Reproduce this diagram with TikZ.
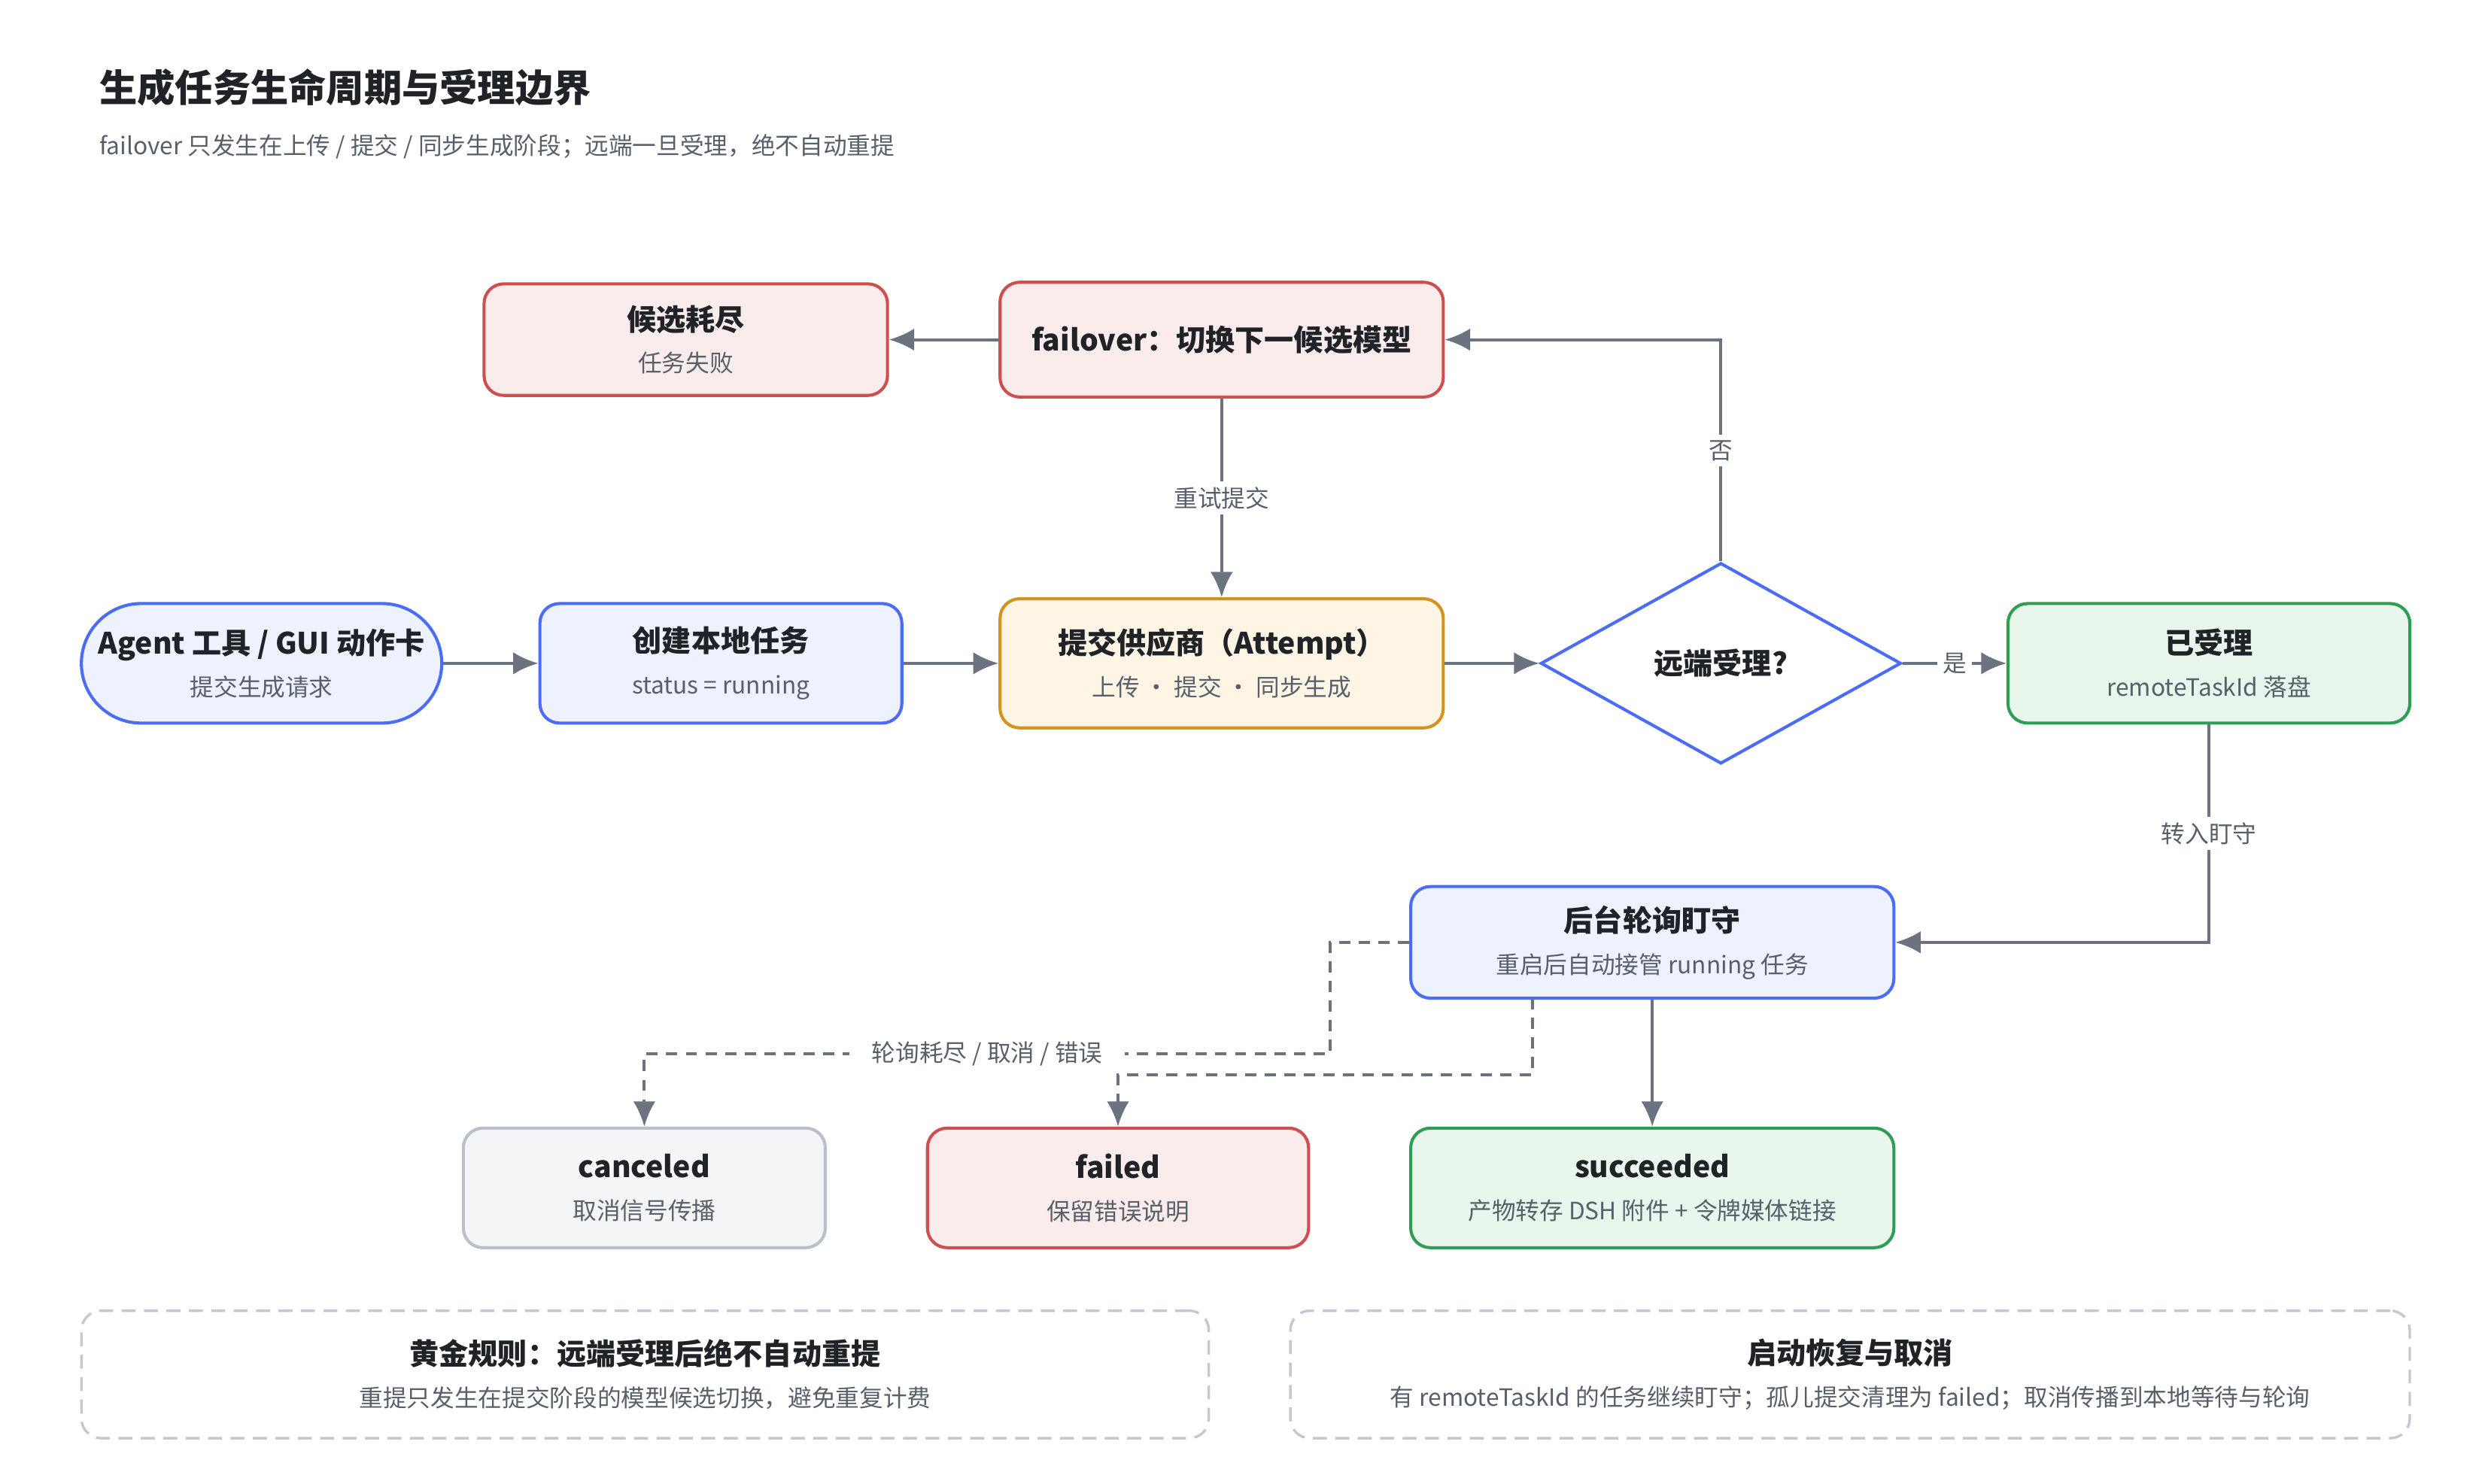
\documentclass[tikz,border=0pt]{standalone}
\usepackage{fontspec}
\setmainfont{Noto Sans CJK SC}
\usetikzlibrary{arrows.meta,shapes.geometric}
\definecolor{ink}{HTML}{1F2328}
\definecolor{subink}{HTML}{57606A}
\definecolor{edge}{HTML}{6B7280}
\definecolor{bluedraw}{HTML}{4A6CF7}
\definecolor{bluefill}{HTML}{EEF2FE}
\definecolor{reddraw}{HTML}{CF4F4F}
\definecolor{redfill}{HTML}{FBECEC}
\definecolor{orangedraw}{HTML}{D4921F}
\definecolor{orangefill}{HTML}{FEF5E4}
\definecolor{greendraw}{HTML}{2E9E55}
\definecolor{greenfill}{HTML}{E8F6EC}
\definecolor{graydraw}{HTML}{B8C0CC}
\definecolor{grayfill}{HTML}{F3F5F7}
\definecolor{notedraw}{HTML}{C4C8D4}
\tikzset{
	box/.style={draw, line width=1.1pt, rounded corners=7pt, align=center,
		text=ink, inner sep=0pt},
	blue/.style={box, draw=bluedraw, fill=bluefill},
	red/.style={box, draw=reddraw, fill=redfill},
	orange/.style={box, draw=orangedraw, fill=orangefill},
	green/.style={box, draw=greendraw, fill=greenfill},
	gray/.style={box, draw=graydraw, fill=grayfill},
	note/.style={draw=notedraw, line width=0.9pt, dash pattern=on 5pt off 3pt,
		rounded corners=7pt, align=center, text=ink, inner sep=0pt},
	flow/.style={draw=edge, line width=1.1pt, -{Latex[length=9pt,width=8pt]}},
	loose/.style={flow, dash pattern=on 4pt off 3pt},
	tag/.style={fill=white, text=subink, font=\fontsize{8.5}{10}\selectfont, inner sep=2pt}
}
\newcommand{\hd}[1]{{\fontsize{10.5}{13}\selectfont\bfseries #1}}
\newcommand{\sbtext}[1]{{\color{subink}\fontsize{8.5}{11}\selectfont #1}}
\begin{document}
\begin{tikzpicture}[x=0.02cm, y=-0.02cm]
	\useasboundingbox (0,0) rectangle (1560,930.7);
	% Titel
	\node[anchor=west, text=ink, inner sep=0pt] (title) at (62,55)
		{\fontsize{13.5}{16}\selectfont\bfseries 生成任务生命周期与受理边界};
	\node[anchor=west, text=subink, inner sep=0pt] (subtitle) at (62,92)
		{\fontsize{8.5}{10}\selectfont failover 只发生在上传 / 提交 / 同步生成阶段；远端一旦受理，绝不自动重提};

	% obere Reihe
	\node[red, minimum width=5.06cm, minimum height=1.4cm] (exhaust) at (430,213)
		{\hd{候选耗尽}\\[3pt]\sbtext{任务失败}};
	\node[red, minimum width=5.56cm, minimum height=1.44cm] (failover) at (766,213)
		{\hd{failover：切换下一候选模型}};

	% mittlere Reihe
	\node[blue, rounded corners=0.75cm, minimum width=4.52cm, minimum height=1.5cm] (agent) at (164,416)
		{\hd{Agent 工具 / GUI 动作卡}\\[3pt]\sbtext{提交生成请求}};
	\node[blue, minimum width=4.54cm, minimum height=1.5cm] (local) at (452,416)
		{\hd{创建本地任务}\\[3pt]\sbtext{status = running}};
	\node[orange, minimum width=5.56cm, minimum height=1.62cm] (attempt) at (766,416)
		{\hd{提交供应商（Attempt）}\\[3pt]\sbtext{上传 · 提交 · 同步生成}};
	\node[diamond, draw=bluedraw, fill=white, line width=1.1pt, aspect=1.8,
		minimum width=4.52cm, minimum height=2.52cm, inner sep=0pt, text=ink] (accepted) at (1079,416)
		{\hd{远端受理?}};
	\node[green, minimum width=5.04cm, minimum height=1.5cm] (taken) at (1385,416)
		{\hd{已受理}\\[3pt]\sbtext{remoteTaskId 落盘}};

	% Überwachung
	\node[blue, minimum width=6.06cm, minimum height=1.4cm] (watch) at (1036,591)
		{\hd{后台轮询盯守}\\[3pt]\sbtext{重启后自动接管 running 任务}};

	% Endzustände
	\node[gray, minimum width=4.54cm, minimum height=1.5cm] (canceled) at (404,745)
		{\hd{canceled}\\[3pt]\sbtext{取消信号传播}};
	\node[red, minimum width=4.78cm, minimum height=1.5cm] (failed) at (701,745)
		{\hd{failed}\\[3pt]\sbtext{保留错误说明}};
	\node[green, minimum width=6.06cm, minimum height=1.5cm] (succeeded) at (1036,745)
		{\hd{succeeded}\\[3pt]\sbtext{产物转存 DSH 附件 + 令牌媒体链接}};

	% Hinweise unten
	\node[note, minimum width=14.14cm, minimum height=1.6cm] (rule) at (404.5,862)
		{\hd{黄金规则：远端受理后绝不自动重提}\\[3pt]\sbtext{重提只发生在提交阶段的模型候选切换，避免重复计费}};
	\node[note, minimum width=14.04cm, minimum height=1.6cm] (recover) at (1160,862)
		{\hd{启动恢复与取消}\\[3pt]\sbtext{有 remoteTaskId 的任务继续盯守；孤儿提交清理为 failed；取消传播到本地等待与轮询}};

	% Verbindungen
	\draw[flow] (agent) -- (local);
	\draw[flow] (local) -- (attempt);
	\draw[flow] (attempt) -- (accepted);
	\draw[flow] (failover) -- (exhaust);
	\draw[flow] (failover) -- node[tag] {重试提交} (attempt);
	\draw[flow] (accepted.north) -- (1079,213) node[tag, pos=0.5] {否} -- (failover.east);
	\draw[flow] (accepted.east) -- node[tag] {是} (taken);
	\draw[flow] (taken.south) -- (1385,591) node[tag, pos=0.5] {转入盯守} -- (watch.east);
	\draw[flow] (watch) -- (succeeded);
	\draw[loose] (watch.west) -- (834,591) -- (834,661) -- (404,661)
		node[tag, pos=0.5, inner xsep=8pt] {轮询耗尽 / 取消 / 错误} -- (canceled.north);
	\coordinate (watchfoot) at (961,626);
	\draw[loose] (watchfoot) -- (961,674) -- (701,674) -- (failed.north);
\end{tikzpicture}
\end{document}
